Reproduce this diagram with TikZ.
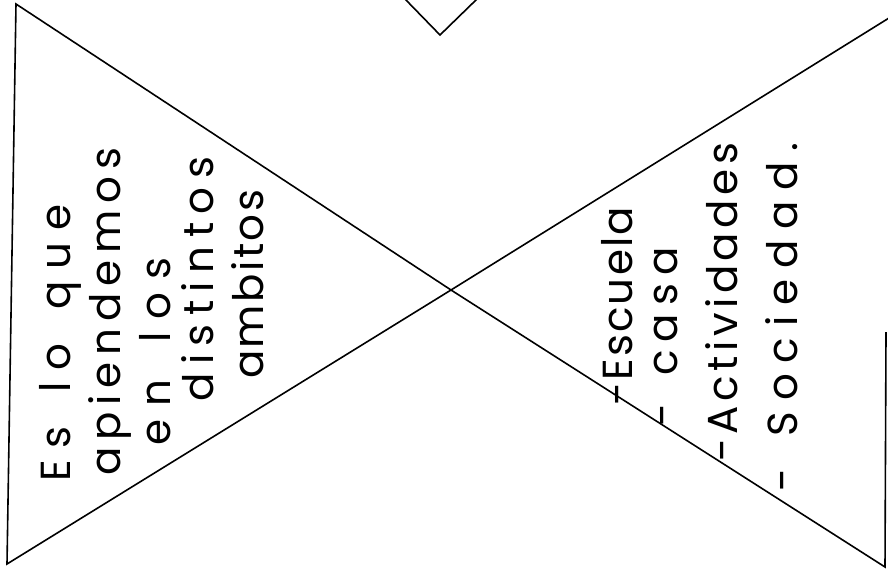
\documentclass[tikz,border=0pt]{standalone}
\usepackage{fontspec}
\setmainfont{Poppins}
\makeatletter
\newcommand\spreadtext[2]{\hbox to #1{\spread@loop#2\@nil}}
\def\spread@loop#1#2{#1\ifx#2\@nil\else\hfil\expandafter\spread@loop\expandafter#2\fi}
\makeatother
\tikzset{
  edge/.style={line width=1.6pt, line join=miter},
  hand/.style={rotate=90, anchor=base west, inner sep=0pt, font=\fontsize{42}{44}\selectfont}
}
\begin{document}
\begin{tikzpicture}[x=1pt,y=-1pt]
\useasboundingbox (0,0) rectangle (888,578);
\begin{scope}
\clip (0,0) rectangle (888,578);
\coordinate (c) at (451,290);
\coordinate (tl) at (16,4);
\coordinate (bl) at (7,564);
\coordinate (tr) at (889,18);
\coordinate (rt) at (886,332);
\coordinate (br) at (885,567);
\coordinate (v1) at (405,-1);
\coordinate (v2) at (440,35);
\coordinate (v3) at (477,-1);
\draw[edge] (tl) -- (c) -- (bl) -- cycle;
\draw[edge] (tr) -- (c) -- (br) -- (rt);
\draw[edge] (v1) -- (v2) -- (v3);
\end{scope}
% left text
\node[hand] (l1) at (70,482) {\spreadtext{277pt}{Es~lo~que}};
\node[hand] (l2) at (120,476) {\spreadtext{328pt}{apiendemos}};
\node[hand] (l3) at (170,446) {\spreadtext{188pt}{en~los}};
\node[hand] (l4) at (213,402) {\spreadtext{245pt}{distintos}};
\node[hand] (l5) at (263,379) {\spreadtext{189pt}{ambitos}};
% right text
\node[hand] (r1) at (632,406) {\spreadtext{199pt}{-Escuela}};
\node[hand] (r2) at (677,427) {\spreadtext{180pt}{-~casa}};
\node[hand] (r3) at (737,462) {\spreadtext{319pt}{-Actividades}};
\node[hand] (r4) at (797,492) {\spreadtext{349pt}{-~Sociedad.}};
\end{tikzpicture}
\end{document}
